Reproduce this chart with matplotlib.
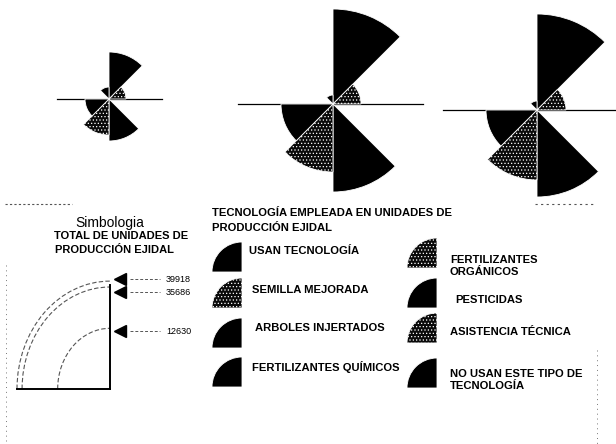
import numpy as np
import matplotlib.pyplot as plt
from matplotlib.patches import Wedge, Arc

plt.rcParams['font.family'] = ['Liberation Sans', 'DejaVu Sans']
plt.rcParams['hatch.linewidth'] = 0.5

# categorias (en el orden del sentido del reloj desde el norte)
categorias = ['USAN TECNOLOGÍA', 'SEMILLA MEJORADA', 'ARBOLES INJERTADOS',
              'FERTILIZANTES QUÍMICOS', 'FERTILIZANTES\nORGÁNICOS', 'PESTICIDAS',
              'ASISTENCIA TÉCNICA', 'NO USAN ESTE TIPO DE\nTECNOLOGÍA']
punteado = [False, True, False, False, True, False, True, False]

# radio de cada sector
radios_1 = [47, 17, 0, 42, 36, 24, 0, 12]
radios_2 = [95, 28, 0, 88, 68, 52, 0, 9]
radios_3 = [96, 29, 0, 87, 70, 51, 0, 9]

totales = [39918, 35686, 12630]
etiquetas_tot = ['39918', '35686', '12630']

W, H = 616, 444
fig = plt.figure(figsize=(W / 100, H / 100), dpi=100)
base = fig.add_axes([0, 0, 1, 1])
base.set_xlim(0, W)
base.set_ylim(H, 0)
base.axis('off')


def estilo(p):
    if p:
        return dict(facecolor='#0a0a0a', edgecolor='white', hatch='.....', linewidth=0.6)
    return dict(facecolor='black', edgecolor='white', linewidth=0.6)


def rosa(cx, cy, radios, x0, x1):
    R = 100
    ax = fig.add_axes([(cx - R) / W, 1 - (cy + R) / H, 2 * R / W, 2 * R / H],
                      projection='polar')
    ax.set_theta_zero_location('N')
    ax.set_theta_direction(-1)
    ax.set_ylim(0, R)
    theta = np.deg2rad(22.5 + 45 * np.arange(len(radios)))
    for t, r, p in zip(theta, radios, punteado):
        if r > 0:
            ax.bar(t, r, width=np.deg2rad(45), bottom=0, **estilo(p))
    ax.axis('off')
    base.plot([x0, x1], [cy, cy], color='black', lw=0.9)


rosa(109, 99, radios_1, 57, 162)
rosa(333, 104, radios_2, 238, 423)
rosa(537, 110, radios_3, 443, 616)

# bordes punteados del mapa
base.plot([5, 72], [204, 204], color='#555555', lw=0.8, ls=(0, (2, 2)))
base.plot([535, 593], [204, 204], color='#555555', lw=0.8, ls=(0, (2, 3)))
base.plot([6, 6], [265, 444], color='#777777', lw=0.7, ls=(0, (1, 4)))
base.plot([597, 597], [350, 444], color='#777777', lw=0.7, ls=(0, (1, 4)))

# simbologia de tamano
base.text(110, 223, 'Simbologia', fontsize=10, ha='center', va='center')
base.text(121, 236, 'TOTAL DE UNIDADES DE', fontsize=8, ha='center', va='center',
          weight='bold')
base.text(114, 250, 'PRODUCCIÓN EJIDAL', fontsize=8, ha='center', va='center',
          weight='bold')

cx, cy = 110, 389
k = 93 / np.sqrt(max(totales))
etiqueta_y = [279, 292, 331]
for tot, lab, ly in zip(totales, etiquetas_tot, etiqueta_y):
    rx = k * np.sqrt(tot)
    ry = rx * 1.16
    base.add_patch(Arc((cx, cy), 2 * rx, 2 * ry, theta1=180, theta2=270,
                       color='#555555', lw=0.8, ls=(0, (4, 2))))
    base.plot(120, ly, marker='<', markersize=9, color='black')
    base.plot([130, 160], [ly, ly], color='#555555', lw=0.7, ls=(0, (3, 2)))
    base.text(166, ly, lab, fontsize=6.5, ha='left', va='center',
              family=['Liberation Sans Narrow', 'Liberation Sans'])
base.plot([cx, cx], [285, cy], color='black', lw=1.4)
base.plot([17, cx], [cy, cy], color='black', lw=1.4)

# leyenda de tecnologia
base.text(212, 213, 'TECNOLOGÍA EMPLEADA EN UNIDADES DE', fontsize=8.1, va='center',
          weight='bold')
base.text(212, 228, 'PRODUCCIÓN EJIDAL', fontsize=8.1, va='center', weight='bold')

simb_x = [242, 242, 242, 242, 437, 437, 437, 437]
simb_y = [272, 308, 348, 387, 268, 308, 343, 388]
texto_x = [249, 252, 255, 252, 450, 455, 450, 450]
texto_y = [251, 290, 328, 367, 266, 300, 332, 380]
for c, p, sx, sy, tx, ty in zip(categorias, punteado, simb_x, simb_y, texto_x, texto_y):
    base.add_patch(Wedge((sx, sy), 30, 180, 270, **estilo(p)))
    base.text(tx, ty, c, fontsize=8.1, va='center', linespacing=1.15, weight='bold')

fig.savefig('out.png', dpi=100)
